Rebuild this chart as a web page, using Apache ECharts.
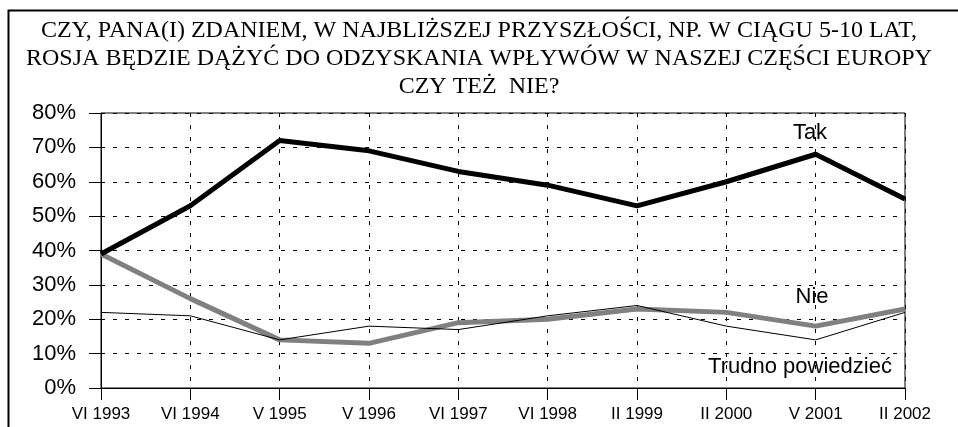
<!DOCTYPE html>
<html>
<head>
<meta charset="utf-8">
<script src="https://cdn.jsdelivr.net/npm/echarts@6/dist/echarts.min.js"></script>
<style>html,body{margin:0;padding:0;background:#fff}#c{width:958px;height:427px}</style>
</head>
<body>
<div id="c"></div>
<script>
const categories = ['VI 1993','VI 1994','V 1995','V 1996','VI 1997','VI 1998','II 1999','II 2000','V 2001','II 2002'];
const tak = [39, 53, 72, 69, 63, 59, 53, 60, 68, 55];
const nie = [39, 26, 14, 13, 19, 20, 23, 22, 18, 23];
const trudno = [22, 21, 14, 18, 17, 21, 24, 18, 14, 22];
const titleLines = [
  'CZY, PANA(I) ZDANIEM, W NAJBLIŻSZEJ PRZYSZŁOŚCI, NP. W CIĄGU 5-10 LAT,',
  'ROSJA BĘDZIE DĄŻYĆ DO ODZYSKANIA WPŁYWÓW W NASZEJ CZĘŚCI EUROPY',
  'CZY TEŻ  NIE?'
];
const seriesNames = ['Tak', 'Nie', 'Trudno powiedzieć'];

const chart = echarts.init(document.getElementById('c'), null, {renderer: 'canvas'});
chart.setOption({
  animation: false,
  backgroundColor: '#fff',
  title: {
    text: titleLines.join('\n'),
    left: 'center',
    top: 12,
    textStyle: {fontFamily: 'Liberation Serif', fontSize: 24, fontWeight: 'normal', color: '#000', lineHeight: 28}
  },
  grid: {left: 101, right: 53, top: 113, bottom: 39, show: true, borderColor: '#000', borderWidth: 1},
  xAxis: {
    type: 'category',
    data: categories,
    boundaryGap: false,
    axisLine: {lineStyle: {color: '#000', width: 1}},
    axisTick: {show: true, length: 12, alignWithLabel: true, lineStyle: {color: '#000'}},
    axisLabel: {fontFamily: 'Liberation Sans', fontSize: 17, color: '#000', margin: 18, interval: 0},
    splitLine: {show: true, lineStyle: {color: '#000', type: [4, 8], width: 1}}
  },
  yAxis: {
    type: 'value',
    min: 0, max: 80, interval: 10,
    axisLine: {show: true, lineStyle: {color: '#000', width: 1}},
    axisTick: {show: true, length: 12, lineStyle: {color: '#000'}},
    axisLabel: {fontFamily: 'Liberation Sans', fontSize: 22, color: '#000', margin: 25, formatter: '{value}%'},
    splitLine: {show: true, lineStyle: {color: '#000', type: [4, 8], width: 1}}
  },
  series: [
    {name: seriesNames[0], type: 'line', data: tak, symbol: 'none', lineStyle: {color: '#000', width: 5}, z: 5},
    {name: seriesNames[1], type: 'line', data: nie, symbol: 'none', lineStyle: {color: '#808080', width: 5}, z: 4},
    {name: seriesNames[2], type: 'line', data: trudno, symbol: 'none', lineStyle: {color: '#000', width: 1}, z: 6}
  ],
  graphic: [
    {type: 'rect', left: 6, top: 8, shape: {width: 960, height: 430}, style: {fill: null, stroke: '#000', lineWidth: 2}, silent: true, z: -1},
    {type: 'text', x: 810, y: 133, style: {text: seriesNames[0], font: '22px "Liberation Sans"', fill: '#000', align: 'center', verticalAlign: 'middle'}},
    {type: 'text', x: 812, y: 297, style: {text: seriesNames[1], font: '22px "Liberation Sans"', fill: '#000', align: 'center', verticalAlign: 'middle'}},
    {type: 'text', x: 800, y: 367, style: {text: seriesNames[2], font: '22px "Liberation Sans"', fill: '#000', align: 'center', verticalAlign: 'middle'}}
  ]
});
</script>
</body>
</html>
